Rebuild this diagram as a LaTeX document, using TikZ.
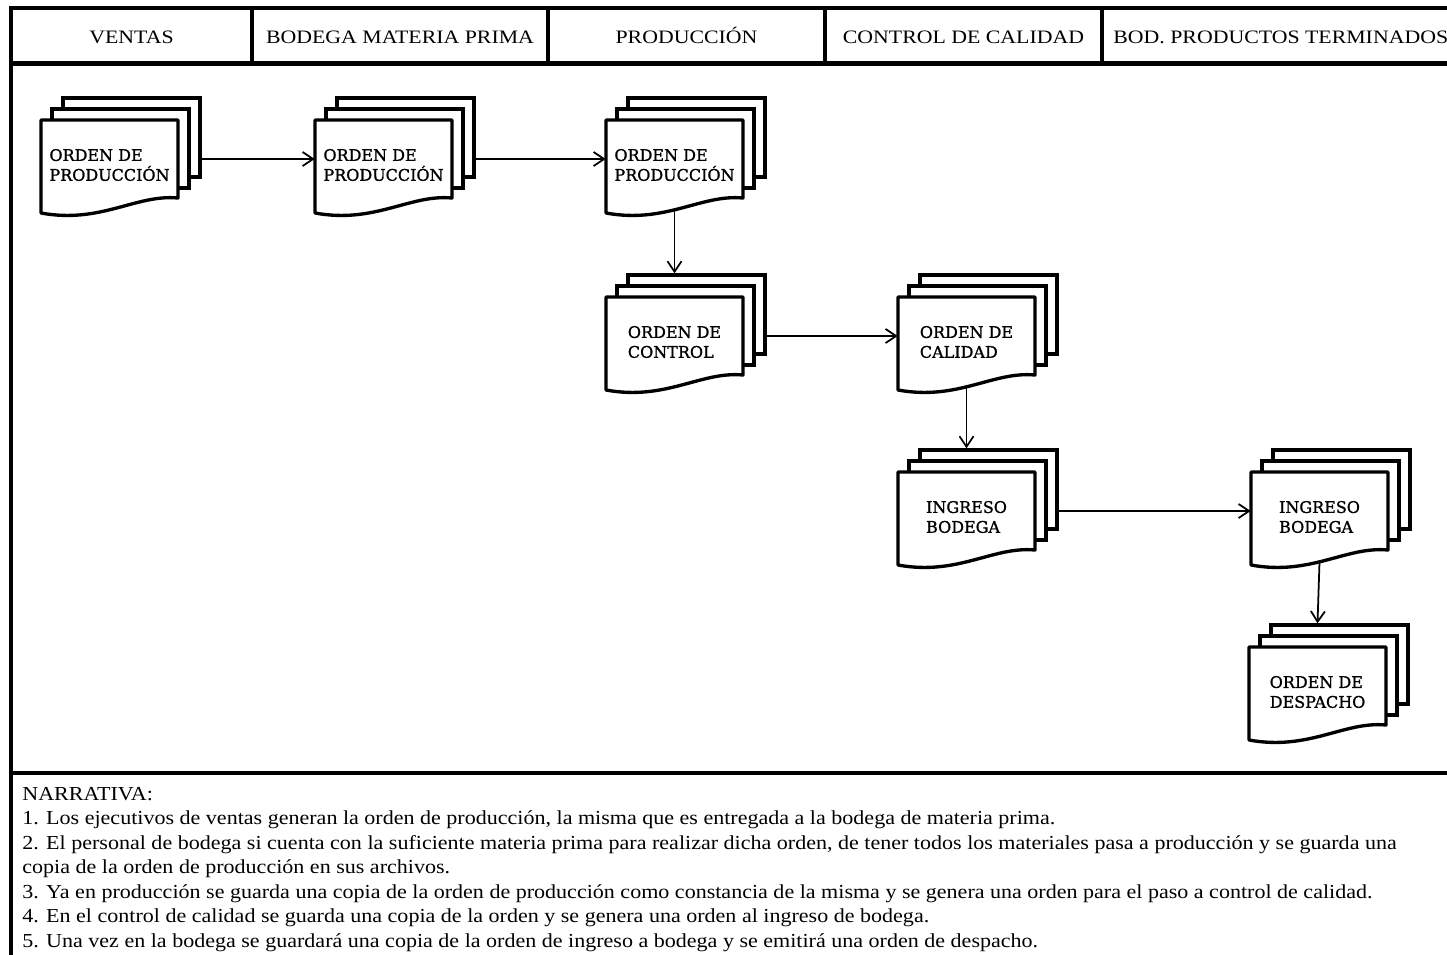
\documentclass[tikz,border=0pt]{standalone}
\usepackage{fontspec}
\setmainfont{Liberation Serif}
\newfontfamily\cabfont[FakeStretch=1.15]{Liberation Serif}
\newfontfamily\narrfont[FakeStretch=1.11]{Liberation Serif}
\newfontfamily\docfont[FakeBold=1.2]{DejaVu Serif}
\usetikzlibrary{arrows.meta}

\tikzset{
  marco/.style={line width=2.3pt, line cap=rect},
  hoja/.style={draw, fill=white, line width=1.9pt, minimum width=2.74cm, minimum height=1.58cm, inner sep=0pt},
  frente/.style={draw, fill=white, line width=1.9pt, line join=round},
  etiqueta/.style={font=\docfont\fontsize{9.1}{11.3}\selectfont, align=left, inner sep=0pt},
  cabecera/.style={font=\cabfont\fontsize{10.8}{13}\selectfont, inner sep=0pt, anchor=base},
  narrativa/.style={font=\narrfont\fontsize{11.3}{13.9}\selectfont, align=left, inner sep=0pt},
  flecha/.style={line width=1pt, -{Straight Barb[length=6pt,width=8pt]}}
}

% documento de tres hojas: nombre, x, y (esquina sup. izq. del frente), texto
\newcommand{\documento}[4]{
  \node[hoja] (#1-b) at (#2+90.5,#3+17.5) {};
  \node[hoja] (#1-m) at (#2+79.5,#3+28.5) {};
  \draw[frente] (#2,#3) -- (#2+137,#3) -- (#2+137,#3+78)
    .. controls (#2+95,#3+74) and (#2+60,#3+104) .. (#2,#3+93) -- cycle;
  \node[minimum width=2.74cm, minimum height=1.56cm, inner sep=0pt] (#1) at (#2+68.5,#3+39) {};
  \node[etiqueta] (#1-t) at (#2+68.5,#3+45) {#4};
  \coordinate (#1-s) at (#2+68.5,#3+90);
}

\begin{document}
\begin{tikzpicture}[x=0.02cm, y=-0.02cm]

% Area visible
\useasboundingbox (0,0) rectangle (1447,954);
\clip (0,0) rectangle (1447,954);
\fill[white] (0,0) rectangle (1447,954);

% Marco
\draw[marco] (11,8) -- (1470,8);
\draw[marco] (11,63.5) -- (1470,63.5);
\draw[marco] (11,773) -- (1470,773);
\draw[marco] (11,8) -- (11,970);
\foreach \x in {252,548,825,1102}{
  \draw[marco] (\x,8) -- (\x,63.5);
}

% Cabeceras
\foreach \x/\nom/\texto in {
131.5/ventas/VENTAS,
400/bodega/BODEGA MATERIA PRIMA,
686.5/produccion/PRODUCCIÓN,
963.5/calidad/CONTROL DE CALIDAD
}{
  \node[cabecera] (h\nom) at (\x,43.5) {\texto};
}
\node[cabecera, anchor=base west] (hterminados) at (1113,43.5) {BOD. PRODUCTOS TERMINADOS};

% Documentos
\documento{opv}{41}{120}{ORDEN DE\\PRODUCCIÓN}
\documento{opb}{315}{120}{ORDEN DE\\PRODUCCIÓN}
\documento{opp}{606}{120}{ORDEN DE\\PRODUCCIÓN}
\documento{oco}{606}{297}{ORDEN DE\\CONTROL}
\documento{oca}{898}{297}{ORDEN DE\\CALIDAD}
\documento{ibc}{898}{472}{INGRESO\\BODEGA}
\documento{ibt}{1251}{472}{INGRESO\\BODEGA}
\documento{ode}{1249}{647}{ORDEN DE\\DESPACHO}

% Flujo
\draw[flecha] (opv-b.east |- opv) -- (opb.west);
\draw[flecha] (opb-b.east |- opb) -- (opp.west);
\draw[flecha] (opp-s) -- (oco-b.north -| oco);
\draw[flecha] (oco-b.east |- oco) -- (oca.west);
\draw[flecha] (oca-s) -- (ibc-b.north -| ibc);
\draw[flecha] (ibc-b.east |- ibc) -- (ibt.west);
\draw[flecha] (ibt-s) -- (ode-b.north -| ode);

% Narrativa
\node[narrativa, anchor=north west] (narr) at (22,787) {NARRATIVA:\\
1. Los ejecutivos de ventas generan la orden de producción, la misma que es entregada a la bodega de materia prima.\\
2. El personal de bodega si cuenta con la suficiente materia prima para realizar dicha orden, de tener todos los materiales pasa a producción y se guarda una\\
copia de la orden de producción en sus archivos.\\
3. Ya en producción se guarda una copia de la orden de producción como constancia de la misma y se genera una orden para el paso a control de calidad.\\
4. En el control de calidad se guarda una copia de la orden y se genera una orden al ingreso de bodega.\\
5. Una vez en la bodega se guardará una copia de la orden de ingreso a bodega y se emitirá una orden de despacho.};

\end{tikzpicture}
\end{document}
